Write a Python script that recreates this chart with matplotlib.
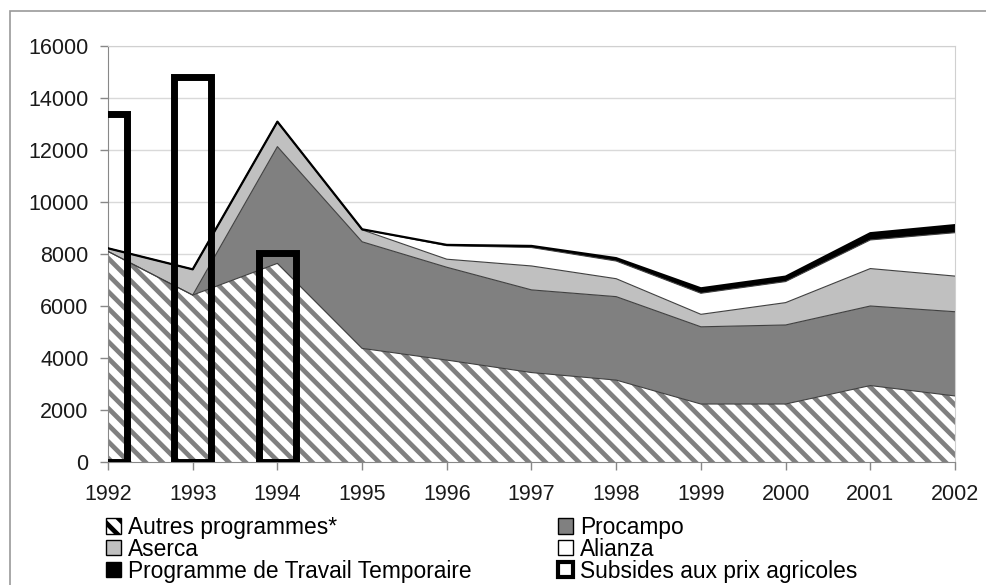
import matplotlib
matplotlib.use("Agg")
import matplotlib.pyplot as plt
import numpy as np
from matplotlib.patches import Patch, Rectangle

plt.rcParams['font.family'] = ['Liberation Sans', 'DejaVu Sans']
plt.rcParams['hatch.linewidth'] = 3.4

# Données
years = [1992, 1993, 1994, 1995, 1996, 1997, 1998, 1999, 2000, 2001, 2002]
autres = [8100, 6420, 7640, 4370, 3920, 3440, 3150, 2230, 2230, 2940, 2540]
procampo = [0, 0, 4490, 4100, 3570, 3180, 3210, 2970, 3040, 3060, 3240]
aserca = [120, 990, 960, 460, 310, 920, 690, 480, 860, 1440, 1370]
alianza = [0, 0, 0, 20, 520, 710, 680, 810, 810, 1100, 1670]
travail = [0, 0, 0, 0, 30, 60, 110, 190, 190, 260, 290]
subsides_years = [1992, 1993, 1994]
subsides = [13400, 14800, 8050]

labels = ["Autres programmes*", "Procampo", "Aserca", "Alianza",
          "Programme de Travail Temporaire", "Subsides aux prix agricoles"]

fig = plt.figure(figsize=(9.87, 5.85), dpi=100)
ax = fig.add_axes([108 / 987, 1 - 462 / 585, 847 / 987, 416 / 585])

x = np.array(years)
layers = [autres, procampo, aserca, alianza, travail]
colors = ['white', '#808080', '#c0c0c0', 'white', 'black']
base = np.zeros(len(years))
for i, (vals, col) in enumerate(zip(layers, colors)):
    top = base + np.array(vals)
    if i == 0:
        ax.fill_between(x, base, top, facecolor='white', edgecolor='#808080',
                        hatch='\\\\', linewidth=0, zorder=2)
    else:
        ax.fill_between(x, base, top, facecolor=col, edgecolor='none',
                        linewidth=0, zorder=2)
    lw = 1.6 if i == 4 else 0.8
    lc = 'black' if i == 4 else '#404040'
    ax.plot(x, top, color=lc, linewidth=lw, zorder=3)
    base = top

# Subsides : barres en contour noir épais
ax.bar(subsides_years, subsides, width=0.44, facecolor='none',
       edgecolor='black', linewidth=5, zorder=4)

ax.set_xlim(1992, 2002)
ax.set_ylim(0, 16000)
ax.set_xticks(years)
ax.set_yticks(np.arange(0, 16001, 2000))
ax.yaxis.grid(True, color='#d9d9d9', linewidth=1)
ax.set_axisbelow(True)
for s in ['top', 'right']:
    ax.spines[s].set_color('#d0d0d0')
for s in ['left', 'bottom']:
    ax.spines[s].set_color('#888888')
ax.tick_params(axis='both', labelsize=15.5, colors='#888888', labelcolor='#1a1a1a',
               length=6, width=1)
ax.tick_params(axis='x', pad=10)
ax.tick_params(axis='y', pad=8)

# Légende en deux colonnes
h1 = [Patch(facecolor='white', edgecolor='black', hatch='\\\\', linewidth=1),
      Patch(facecolor='#c0c0c0', edgecolor='black', linewidth=1),
      Patch(facecolor='black', edgecolor='black', linewidth=1)]
h2 = [Patch(facecolor='#808080', edgecolor='black', linewidth=1),
      Patch(facecolor='white', edgecolor='black', linewidth=1),
      Patch(facecolor='white', edgecolor='black', linewidth=3)]
kw = dict(frameon=False, fontsize=16.4, handlelength=0.65, handleheight=0.65,
          handletextpad=0.3, labelspacing=-0.05, borderpad=0, borderaxespad=0,
          loc='upper left')
leg1 = fig.legend(h1, [labels[0], labels[2], labels[4]],
                  bbox_to_anchor=(106 / 987, 1 - 516 / 585), **kw)
leg2 = fig.legend(h2, [labels[1], labels[3], labels[5]],
                  bbox_to_anchor=(558 / 987, 1 - 516 / 585), **kw)

# Cadre extérieur
fig.add_artist(Rectangle((10 / 987, -0.1), 1.1, 1 - 11 / 585 + 0.1,
                         transform=fig.transFigure, fill=False,
                         edgecolor='#999999', linewidth=1.2, clip_on=False))

fig.savefig("out.png", dpi=100)
